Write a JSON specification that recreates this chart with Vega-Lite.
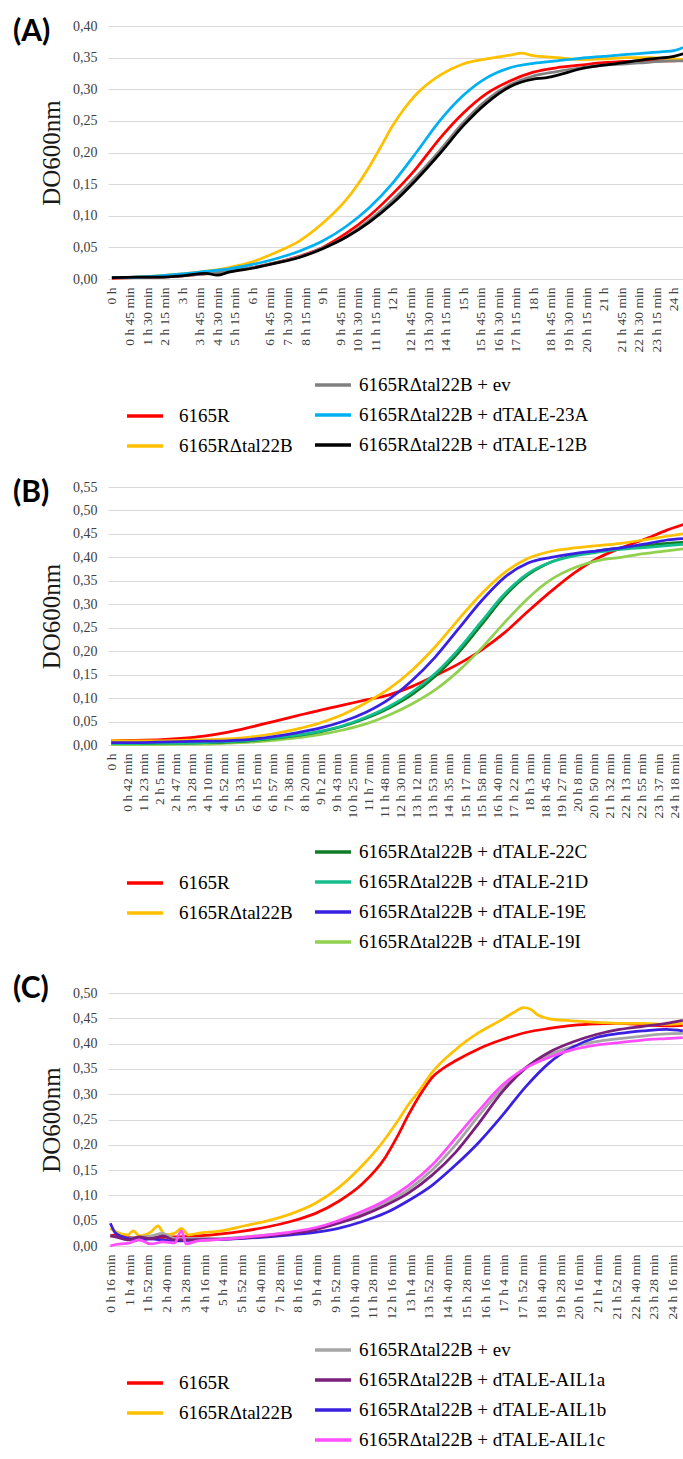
{
"$schema": "https://vega.github.io/schema/vega-lite/v6.json",
"padding": {"left": 13, "top": 17, "right": 0, "bottom": 0},
"spacing": 22,
"config": {
  "view": {"stroke": null},
  "font": "Liberation Serif",
  "axis": {"labelFont": "Liberation Serif", "labelColor": "#404040", "titleFont": "Liberation Serif", "titleFontWeight": "normal", "titleColor": "#1a1a1a", "ticks": false, "domain": false, "gridColor": "#D9D9D9", "gridWidth": 1},
  "axisX": {"grid": false, "domain": true, "domainColor": "#D9D9D9", "domainWidth": 1, "labelAngle": -90, "labelFontSize": 13.5, "labelPadding": 8, "labelOverlap": false, "labelFlush": false, "labelBound": false, "title": null},
  "axisY": {"labelFontSize": 14, "labelPadding": 11, "titleFontSize": 25, "titlePadding": 8, "labelExpr": "replace(format(datum.value,'.2f'),'.',',')"},
  "legend": {"orient": "none", "symbolType": "stroke", "symbolStrokeWidth": 3.5, "symbolSize": 1296, "rowPadding": -7, "labelFont": "Liberation Serif", "labelFontSize": 19, "labelColor": "#000000", "padding": 0, "labelLimit": 400},
  "title": {"font": "Lato", "fontSize": 30, "fontWeight": "bold", "color": "#000000", "anchor": "start", "frame": "group", "baseline": "top", "offset": 0, "dx": -95, "dy": 32}
},
"datasets": {
"A": [
{"s":"6165R","t":0,"v":0.001},{"s":"6165R","t":60,"v":0.002},{"s":"6165R","t":120,"v":0.003},{"s":"6165R","t":180,"v":0.005},{"s":"6165R","t":240,"v":0.008},{"s":"6165R","t":300,"v":0.012},{"s":"6165R","t":360,"v":0.018},{"s":"6165R","t":420,"v":0.026},{"s":"6165R","t":480,"v":0.036},{"s":"6165R","t":540,"v":0.05},{"s":"6165R","t":600,"v":0.072},{"s":"6165R","t":660,"v":0.1},{"s":"6165R","t":720,"v":0.135},{"s":"6165R","t":780,"v":0.175},{"s":"6165R","t":840,"v":0.222},{"s":"6165R","t":900,"v":0.262},{"s":"6165R","t":960,"v":0.293},{"s":"6165R","t":1020,"v":0.313},{"s":"6165R","t":1080,"v":0.327},{"s":"6165R","t":1140,"v":0.334},{"s":"6165R","t":1200,"v":0.338},{"s":"6165R","t":1260,"v":0.342},{"s":"6165R","t":1320,"v":0.344},{"s":"6165R","t":1380,"v":0.345},{"s":"6165R","t":1440,"v":0.345},{"s":"6165R","t":1464,"v":0.346},
{"s":"6165RΔtal22B","t":0,"v":0.002},{"s":"6165RΔtal22B","t":60,"v":0.003},{"s":"6165RΔtal22B","t":120,"v":0.005},{"s":"6165RΔtal22B","t":180,"v":0.008},{"s":"6165RΔtal22B","t":240,"v":0.012},{"s":"6165RΔtal22B","t":300,"v":0.018},{"s":"6165RΔtal22B","t":360,"v":0.027},{"s":"6165RΔtal22B","t":420,"v":0.042},{"s":"6165RΔtal22B","t":480,"v":0.06},{"s":"6165RΔtal22B","t":540,"v":0.088},{"s":"6165RΔtal22B","t":600,"v":0.125},{"s":"6165RΔtal22B","t":660,"v":0.178},{"s":"6165RΔtal22B","t":690,"v":0.21},{"s":"6165RΔtal22B","t":720,"v":0.243},{"s":"6165RΔtal22B","t":750,"v":0.27},{"s":"6165RΔtal22B","t":780,"v":0.292},{"s":"6165RΔtal22B","t":840,"v":0.322},{"s":"6165RΔtal22B","t":900,"v":0.34},{"s":"6165RΔtal22B","t":960,"v":0.348},{"s":"6165RΔtal22B","t":1020,"v":0.354},{"s":"6165RΔtal22B","t":1050,"v":0.357},{"s":"6165RΔtal22B","t":1080,"v":0.353},{"s":"6165RΔtal22B","t":1140,"v":0.35},{"s":"6165RΔtal22B","t":1200,"v":0.347},{"s":"6165RΔtal22B","t":1260,"v":0.348},{"s":"6165RΔtal22B","t":1320,"v":0.35},{"s":"6165RΔtal22B","t":1380,"v":0.35},{"s":"6165RΔtal22B","t":1440,"v":0.348},{"s":"6165RΔtal22B","t":1464,"v":0.347},
{"s":"6165RΔtal22B + ev","t":0,"v":0.002},{"s":"6165RΔtal22B + ev","t":60,"v":0.002},{"s":"6165RΔtal22B + ev","t":120,"v":0.003},{"s":"6165RΔtal22B + ev","t":180,"v":0.005},{"s":"6165RΔtal22B + ev","t":240,"v":0.008},{"s":"6165RΔtal22B + ev","t":300,"v":0.012},{"s":"6165RΔtal22B + ev","t":360,"v":0.018},{"s":"6165RΔtal22B + ev","t":420,"v":0.026},{"s":"6165RΔtal22B + ev","t":480,"v":0.035},{"s":"6165RΔtal22B + ev","t":540,"v":0.049},{"s":"6165RΔtal22B + ev","t":600,"v":0.067},{"s":"6165RΔtal22B + ev","t":660,"v":0.093},{"s":"6165RΔtal22B + ev","t":720,"v":0.125},{"s":"6165RΔtal22B + ev","t":780,"v":0.162},{"s":"6165RΔtal22B + ev","t":840,"v":0.203},{"s":"6165RΔtal22B + ev","t":900,"v":0.247},{"s":"6165RΔtal22B + ev","t":960,"v":0.283},{"s":"6165RΔtal22B + ev","t":1020,"v":0.307},{"s":"6165RΔtal22B + ev","t":1080,"v":0.321},{"s":"6165RΔtal22B + ev","t":1140,"v":0.328},{"s":"6165RΔtal22B + ev","t":1200,"v":0.334},{"s":"6165RΔtal22B + ev","t":1260,"v":0.338},{"s":"6165RΔtal22B + ev","t":1320,"v":0.34},{"s":"6165RΔtal22B + ev","t":1380,"v":0.343},{"s":"6165RΔtal22B + ev","t":1440,"v":0.345},{"s":"6165RΔtal22B + ev","t":1464,"v":0.345},
{"s":"6165RΔtal22B + dTALE-23A","t":0,"v":0.002},{"s":"6165RΔtal22B + dTALE-23A","t":60,"v":0.003},{"s":"6165RΔtal22B + dTALE-23A","t":120,"v":0.005},{"s":"6165RΔtal22B + dTALE-23A","t":180,"v":0.008},{"s":"6165RΔtal22B + dTALE-23A","t":240,"v":0.012},{"s":"6165RΔtal22B + dTALE-23A","t":300,"v":0.016},{"s":"6165RΔtal22B + dTALE-23A","t":360,"v":0.023},{"s":"6165RΔtal22B + dTALE-23A","t":420,"v":0.032},{"s":"6165RΔtal22B + dTALE-23A","t":480,"v":0.044},{"s":"6165RΔtal22B + dTALE-23A","t":540,"v":0.06},{"s":"6165RΔtal22B + dTALE-23A","t":600,"v":0.083},{"s":"6165RΔtal22B + dTALE-23A","t":660,"v":0.113},{"s":"6165RΔtal22B + dTALE-23A","t":720,"v":0.152},{"s":"6165RΔtal22B + dTALE-23A","t":780,"v":0.2},{"s":"6165RΔtal22B + dTALE-23A","t":840,"v":0.25},{"s":"6165RΔtal22B + dTALE-23A","t":900,"v":0.29},{"s":"6165RΔtal22B + dTALE-23A","t":960,"v":0.318},{"s":"6165RΔtal22B + dTALE-23A","t":1020,"v":0.334},{"s":"6165RΔtal22B + dTALE-23A","t":1080,"v":0.341},{"s":"6165RΔtal22B + dTALE-23A","t":1140,"v":0.345},{"s":"6165RΔtal22B + dTALE-23A","t":1200,"v":0.349},{"s":"6165RΔtal22B + dTALE-23A","t":1260,"v":0.352},{"s":"6165RΔtal22B + dTALE-23A","t":1320,"v":0.355},{"s":"6165RΔtal22B + dTALE-23A","t":1380,"v":0.358},{"s":"6165RΔtal22B + dTALE-23A","t":1440,"v":0.361},{"s":"6165RΔtal22B + dTALE-23A","t":1464,"v":0.366},
{"s":"6165RΔtal22B + dTALE-12B","t":0,"v":0.002},{"s":"6165RΔtal22B + dTALE-12B","t":60,"v":0.003},{"s":"6165RΔtal22B + dTALE-12B","t":120,"v":0.003},{"s":"6165RΔtal22B + dTALE-12B","t":180,"v":0.005},{"s":"6165RΔtal22B + dTALE-12B","t":240,"v":0.009},{"s":"6165RΔtal22B + dTALE-12B","t":270,"v":0.006},{"s":"6165RΔtal22B + dTALE-12B","t":300,"v":0.011},{"s":"6165RΔtal22B + dTALE-12B","t":360,"v":0.017},{"s":"6165RΔtal22B + dTALE-12B","t":420,"v":0.025},{"s":"6165RΔtal22B + dTALE-12B","t":480,"v":0.034},{"s":"6165RΔtal22B + dTALE-12B","t":540,"v":0.048},{"s":"6165RΔtal22B + dTALE-12B","t":600,"v":0.066},{"s":"6165RΔtal22B + dTALE-12B","t":660,"v":0.09},{"s":"6165RΔtal22B + dTALE-12B","t":720,"v":0.12},{"s":"6165RΔtal22B + dTALE-12B","t":780,"v":0.157},{"s":"6165RΔtal22B + dTALE-12B","t":840,"v":0.198},{"s":"6165RΔtal22B + dTALE-12B","t":900,"v":0.242},{"s":"6165RΔtal22B + dTALE-12B","t":960,"v":0.278},{"s":"6165RΔtal22B + dTALE-12B","t":1020,"v":0.304},{"s":"6165RΔtal22B + dTALE-12B","t":1080,"v":0.316},{"s":"6165RΔtal22B + dTALE-12B","t":1110,"v":0.318},{"s":"6165RΔtal22B + dTALE-12B","t":1140,"v":0.322},{"s":"6165RΔtal22B + dTALE-12B","t":1200,"v":0.332},{"s":"6165RΔtal22B + dTALE-12B","t":1260,"v":0.338},{"s":"6165RΔtal22B + dTALE-12B","t":1320,"v":0.343},{"s":"6165RΔtal22B + dTALE-12B","t":1380,"v":0.348},{"s":"6165RΔtal22B + dTALE-12B","t":1440,"v":0.352},{"s":"6165RΔtal22B + dTALE-12B","t":1464,"v":0.356}
],
"B": [
{"s":"6165R","t":0,"v":0.01},{"s":"6165R","t":60,"v":0.01},{"s":"6165R","t":120,"v":0.011},{"s":"6165R","t":180,"v":0.014},{"s":"6165R","t":240,"v":0.019},{"s":"6165R","t":300,"v":0.027},{"s":"6165R","t":360,"v":0.038},{"s":"6165R","t":420,"v":0.05},{"s":"6165R","t":480,"v":0.062},{"s":"6165R","t":540,"v":0.074},{"s":"6165R","t":600,"v":0.085},{"s":"6165R","t":660,"v":0.096},{"s":"6165R","t":720,"v":0.107},{"s":"6165R","t":780,"v":0.125},{"s":"6165R","t":840,"v":0.148},{"s":"6165R","t":900,"v":0.173},{"s":"6165R","t":960,"v":0.203},{"s":"6165R","t":1020,"v":0.24},{"s":"6165R","t":1080,"v":0.285},{"s":"6165R","t":1140,"v":0.328},{"s":"6165R","t":1200,"v":0.367},{"s":"6165R","t":1260,"v":0.398},{"s":"6165R","t":1320,"v":0.42},{"s":"6165R","t":1380,"v":0.438},{"s":"6165R","t":1440,"v":0.458},{"s":"6165R","t":1482,"v":0.47},
{"s":"6165RΔtal22B","t":0,"v":0.01},{"s":"6165RΔtal22B","t":60,"v":0.009},{"s":"6165RΔtal22B","t":120,"v":0.009},{"s":"6165RΔtal22B","t":180,"v":0.01},{"s":"6165RΔtal22B","t":240,"v":0.011},{"s":"6165RΔtal22B","t":300,"v":0.013},{"s":"6165RΔtal22B","t":360,"v":0.017},{"s":"6165RΔtal22B","t":420,"v":0.024},{"s":"6165RΔtal22B","t":480,"v":0.034},{"s":"6165RΔtal22B","t":540,"v":0.047},{"s":"6165RΔtal22B","t":600,"v":0.065},{"s":"6165RΔtal22B","t":660,"v":0.09},{"s":"6165RΔtal22B","t":720,"v":0.12},{"s":"6165RΔtal22B","t":780,"v":0.16},{"s":"6165RΔtal22B","t":840,"v":0.21},{"s":"6165RΔtal22B","t":900,"v":0.268},{"s":"6165RΔtal22B","t":960,"v":0.323},{"s":"6165RΔtal22B","t":1020,"v":0.368},{"s":"6165RΔtal22B","t":1080,"v":0.398},{"s":"6165RΔtal22B","t":1140,"v":0.413},{"s":"6165RΔtal22B","t":1200,"v":0.42},{"s":"6165RΔtal22B","t":1260,"v":0.425},{"s":"6165RΔtal22B","t":1320,"v":0.43},{"s":"6165RΔtal22B","t":1380,"v":0.437},{"s":"6165RΔtal22B","t":1440,"v":0.445},{"s":"6165RΔtal22B","t":1482,"v":0.45},
{"s":"6165RΔtal22B + dTALE-19I","t":0,"v":0.001},{"s":"6165RΔtal22B + dTALE-19I","t":60,"v":0.001},{"s":"6165RΔtal22B + dTALE-19I","t":120,"v":0.001},{"s":"6165RΔtal22B + dTALE-19I","t":180,"v":0.002},{"s":"6165RΔtal22B + dTALE-19I","t":240,"v":0.002},{"s":"6165RΔtal22B + dTALE-19I","t":300,"v":0.004},{"s":"6165RΔtal22B + dTALE-19I","t":360,"v":0.006},{"s":"6165RΔtal22B + dTALE-19I","t":420,"v":0.01},{"s":"6165RΔtal22B + dTALE-19I","t":480,"v":0.015},{"s":"6165RΔtal22B + dTALE-19I","t":540,"v":0.022},{"s":"6165RΔtal22B + dTALE-19I","t":600,"v":0.032},{"s":"6165RΔtal22B + dTALE-19I","t":660,"v":0.045},{"s":"6165RΔtal22B + dTALE-19I","t":720,"v":0.064},{"s":"6165RΔtal22B + dTALE-19I","t":780,"v":0.088},{"s":"6165RΔtal22B + dTALE-19I","t":840,"v":0.118},{"s":"6165RΔtal22B + dTALE-19I","t":900,"v":0.158},{"s":"6165RΔtal22B + dTALE-19I","t":960,"v":0.207},{"s":"6165RΔtal22B + dTALE-19I","t":1020,"v":0.262},{"s":"6165RΔtal22B + dTALE-19I","t":1080,"v":0.313},{"s":"6165RΔtal22B + dTALE-19I","t":1140,"v":0.353},{"s":"6165RΔtal22B + dTALE-19I","t":1200,"v":0.378},{"s":"6165RΔtal22B + dTALE-19I","t":1260,"v":0.393},{"s":"6165RΔtal22B + dTALE-19I","t":1320,"v":0.4},{"s":"6165RΔtal22B + dTALE-19I","t":1380,"v":0.408},{"s":"6165RΔtal22B + dTALE-19I","t":1440,"v":0.414},{"s":"6165RΔtal22B + dTALE-19I","t":1482,"v":0.418},
{"s":"6165RΔtal22B + dTALE-22C","t":0,"v":0.003},{"s":"6165RΔtal22B + dTALE-22C","t":60,"v":0.003},{"s":"6165RΔtal22B + dTALE-22C","t":120,"v":0.004},{"s":"6165RΔtal22B + dTALE-22C","t":180,"v":0.004},{"s":"6165RΔtal22B + dTALE-22C","t":240,"v":0.005},{"s":"6165RΔtal22B + dTALE-22C","t":300,"v":0.006},{"s":"6165RΔtal22B + dTALE-22C","t":360,"v":0.009},{"s":"6165RΔtal22B + dTALE-22C","t":420,"v":0.014},{"s":"6165RΔtal22B + dTALE-22C","t":480,"v":0.02},{"s":"6165RΔtal22B + dTALE-22C","t":540,"v":0.028},{"s":"6165RΔtal22B + dTALE-22C","t":600,"v":0.04},{"s":"6165RΔtal22B + dTALE-22C","t":660,"v":0.057},{"s":"6165RΔtal22B + dTALE-22C","t":720,"v":0.079},{"s":"6165RΔtal22B + dTALE-22C","t":780,"v":0.108},{"s":"6165RΔtal22B + dTALE-22C","t":840,"v":0.147},{"s":"6165RΔtal22B + dTALE-22C","t":900,"v":0.197},{"s":"6165RΔtal22B + dTALE-22C","t":960,"v":0.257},{"s":"6165RΔtal22B + dTALE-22C","t":1020,"v":0.318},{"s":"6165RΔtal22B + dTALE-22C","t":1080,"v":0.363},{"s":"6165RΔtal22B + dTALE-22C","t":1140,"v":0.39},{"s":"6165RΔtal22B + dTALE-22C","t":1200,"v":0.405},{"s":"6165RΔtal22B + dTALE-22C","t":1260,"v":0.414},{"s":"6165RΔtal22B + dTALE-22C","t":1320,"v":0.42},{"s":"6165RΔtal22B + dTALE-22C","t":1380,"v":0.425},{"s":"6165RΔtal22B + dTALE-22C","t":1440,"v":0.43},{"s":"6165RΔtal22B + dTALE-22C","t":1482,"v":0.432},
{"s":"6165RΔtal22B + dTALE-21D","t":0,"v":0.003},{"s":"6165RΔtal22B + dTALE-21D","t":60,"v":0.003},{"s":"6165RΔtal22B + dTALE-21D","t":120,"v":0.004},{"s":"6165RΔtal22B + dTALE-21D","t":180,"v":0.004},{"s":"6165RΔtal22B + dTALE-21D","t":240,"v":0.005},{"s":"6165RΔtal22B + dTALE-21D","t":300,"v":0.007},{"s":"6165RΔtal22B + dTALE-21D","t":360,"v":0.01},{"s":"6165RΔtal22B + dTALE-21D","t":420,"v":0.015},{"s":"6165RΔtal22B + dTALE-21D","t":480,"v":0.021},{"s":"6165RΔtal22B + dTALE-21D","t":540,"v":0.029},{"s":"6165RΔtal22B + dTALE-21D","t":600,"v":0.041},{"s":"6165RΔtal22B + dTALE-21D","t":660,"v":0.059},{"s":"6165RΔtal22B + dTALE-21D","t":720,"v":0.082},{"s":"6165RΔtal22B + dTALE-21D","t":780,"v":0.113},{"s":"6165RΔtal22B + dTALE-21D","t":840,"v":0.153},{"s":"6165RΔtal22B + dTALE-21D","t":900,"v":0.204},{"s":"6165RΔtal22B + dTALE-21D","t":960,"v":0.264},{"s":"6165RΔtal22B + dTALE-21D","t":1020,"v":0.323},{"s":"6165RΔtal22B + dTALE-21D","t":1080,"v":0.366},{"s":"6165RΔtal22B + dTALE-21D","t":1140,"v":0.39},{"s":"6165RΔtal22B + dTALE-21D","t":1200,"v":0.403},{"s":"6165RΔtal22B + dTALE-21D","t":1260,"v":0.411},{"s":"6165RΔtal22B + dTALE-21D","t":1320,"v":0.417},{"s":"6165RΔtal22B + dTALE-21D","t":1380,"v":0.421},{"s":"6165RΔtal22B + dTALE-21D","t":1440,"v":0.425},{"s":"6165RΔtal22B + dTALE-21D","t":1482,"v":0.428},
{"s":"6165RΔtal22B + dTALE-19E","t":0,"v":0.005},{"s":"6165RΔtal22B + dTALE-19E","t":60,"v":0.005},{"s":"6165RΔtal22B + dTALE-19E","t":120,"v":0.006},{"s":"6165RΔtal22B + dTALE-19E","t":180,"v":0.007},{"s":"6165RΔtal22B + dTALE-19E","t":240,"v":0.008},{"s":"6165RΔtal22B + dTALE-19E","t":300,"v":0.009},{"s":"6165RΔtal22B + dTALE-19E","t":360,"v":0.012},{"s":"6165RΔtal22B + dTALE-19E","t":420,"v":0.018},{"s":"6165RΔtal22B + dTALE-19E","t":480,"v":0.026},{"s":"6165RΔtal22B + dTALE-19E","t":540,"v":0.036},{"s":"6165RΔtal22B + dTALE-19E","t":600,"v":0.05},{"s":"6165RΔtal22B + dTALE-19E","t":660,"v":0.07},{"s":"6165RΔtal22B + dTALE-19E","t":720,"v":0.098},{"s":"6165RΔtal22B + dTALE-19E","t":780,"v":0.138},{"s":"6165RΔtal22B + dTALE-19E","t":840,"v":0.188},{"s":"6165RΔtal22B + dTALE-19E","t":900,"v":0.248},{"s":"6165RΔtal22B + dTALE-19E","t":960,"v":0.308},{"s":"6165RΔtal22B + dTALE-19E","t":1020,"v":0.358},{"s":"6165RΔtal22B + dTALE-19E","t":1080,"v":0.388},{"s":"6165RΔtal22B + dTALE-19E","t":1140,"v":0.4},{"s":"6165RΔtal22B + dTALE-19E","t":1200,"v":0.408},{"s":"6165RΔtal22B + dTALE-19E","t":1260,"v":0.414},{"s":"6165RΔtal22B + dTALE-19E","t":1320,"v":0.42},{"s":"6165RΔtal22B + dTALE-19E","t":1380,"v":0.428},{"s":"6165RΔtal22B + dTALE-19E","t":1440,"v":0.437},{"s":"6165RΔtal22B + dTALE-19E","t":1482,"v":0.44}
],
"C": [
{"s":"6165R","t":16,"v":0.02},{"s":"6165R","t":30,"v":0.022},{"s":"6165R","t":60,"v":0.018},{"s":"6165R","t":90,"v":0.015},{"s":"6165R","t":120,"v":0.016},{"s":"6165R","t":180,"v":0.018},{"s":"6165R","t":240,"v":0.02},{"s":"6165R","t":300,"v":0.024},{"s":"6165R","t":360,"v":0.03},{"s":"6165R","t":420,"v":0.038},{"s":"6165R","t":480,"v":0.049},{"s":"6165R","t":540,"v":0.064},{"s":"6165R","t":600,"v":0.088},{"s":"6165R","t":660,"v":0.122},{"s":"6165R","t":720,"v":0.175},{"s":"6165R","t":750,"v":0.215},{"s":"6165R","t":780,"v":0.26},{"s":"6165R","t":810,"v":0.3},{"s":"6165R","t":840,"v":0.333},{"s":"6165R","t":870,"v":0.352},{"s":"6165R","t":900,"v":0.366},{"s":"6165R","t":960,"v":0.39},{"s":"6165R","t":1020,"v":0.408},{"s":"6165R","t":1080,"v":0.422},{"s":"6165R","t":1140,"v":0.43},{"s":"6165R","t":1200,"v":0.436},{"s":"6165R","t":1260,"v":0.439},{"s":"6165R","t":1320,"v":0.44},{"s":"6165R","t":1380,"v":0.437},{"s":"6165R","t":1440,"v":0.435},{"s":"6165R","t":1482,"v":0.436},
{"s":"6165RΔtal22B","t":16,"v":0.035},{"s":"6165RΔtal22B","t":30,"v":0.028},{"s":"6165RΔtal22B","t":60,"v":0.022},{"s":"6165RΔtal22B","t":75,"v":0.03},{"s":"6165RΔtal22B","t":90,"v":0.02},{"s":"6165RΔtal22B","t":120,"v":0.028},{"s":"6165RΔtal22B","t":138,"v":0.04},{"s":"6165RΔtal22B","t":156,"v":0.022},{"s":"6165RΔtal22B","t":180,"v":0.025},{"s":"6165RΔtal22B","t":198,"v":0.035},{"s":"6165RΔtal22B","t":216,"v":0.022},{"s":"6165RΔtal22B","t":240,"v":0.025},{"s":"6165RΔtal22B","t":300,"v":0.03},{"s":"6165RΔtal22B","t":360,"v":0.04},{"s":"6165RΔtal22B","t":420,"v":0.05},{"s":"6165RΔtal22B","t":480,"v":0.064},{"s":"6165RΔtal22B","t":540,"v":0.084},{"s":"6165RΔtal22B","t":600,"v":0.115},{"s":"6165RΔtal22B","t":660,"v":0.158},{"s":"6165RΔtal22B","t":720,"v":0.212},{"s":"6165RΔtal22B","t":750,"v":0.245},{"s":"6165RΔtal22B","t":780,"v":0.28},{"s":"6165RΔtal22B","t":810,"v":0.31},{"s":"6165RΔtal22B","t":840,"v":0.343},{"s":"6165RΔtal22B","t":900,"v":0.388},{"s":"6165RΔtal22B","t":960,"v":0.422},{"s":"6165RΔtal22B","t":1020,"v":0.448},{"s":"6165RΔtal22B","t":1050,"v":0.462},{"s":"6165RΔtal22B","t":1074,"v":0.471},{"s":"6165RΔtal22B","t":1092,"v":0.468},{"s":"6165RΔtal22B","t":1110,"v":0.457},{"s":"6165RΔtal22B","t":1140,"v":0.449},{"s":"6165RΔtal22B","t":1200,"v":0.445},{"s":"6165RΔtal22B","t":1260,"v":0.442},{"s":"6165RΔtal22B","t":1320,"v":0.44},{"s":"6165RΔtal22B","t":1380,"v":0.44},{"s":"6165RΔtal22B","t":1440,"v":0.438},{"s":"6165RΔtal22B","t":1482,"v":0.44},
{"s":"6165RΔtal22B + ev","t":16,"v":0.02},{"s":"6165RΔtal22B + ev","t":60,"v":0.016},{"s":"6165RΔtal22B + ev","t":120,"v":0.02},{"s":"6165RΔtal22B + ev","t":150,"v":0.025},{"s":"6165RΔtal22B + ev","t":180,"v":0.015},{"s":"6165RΔtal22B + ev","t":240,"v":0.015},{"s":"6165RΔtal22B + ev","t":300,"v":0.015},{"s":"6165RΔtal22B + ev","t":360,"v":0.018},{"s":"6165RΔtal22B + ev","t":420,"v":0.022},{"s":"6165RΔtal22B + ev","t":480,"v":0.027},{"s":"6165RΔtal22B + ev","t":540,"v":0.034},{"s":"6165RΔtal22B + ev","t":600,"v":0.047},{"s":"6165RΔtal22B + ev","t":660,"v":0.063},{"s":"6165RΔtal22B + ev","t":720,"v":0.085},{"s":"6165RΔtal22B + ev","t":780,"v":0.112},{"s":"6165RΔtal22B + ev","t":840,"v":0.15},{"s":"6165RΔtal22B + ev","t":900,"v":0.2},{"s":"6165RΔtal22B + ev","t":960,"v":0.258},{"s":"6165RΔtal22B + ev","t":1020,"v":0.312},{"s":"6165RΔtal22B + ev","t":1080,"v":0.353},{"s":"6165RΔtal22B + ev","t":1140,"v":0.378},{"s":"6165RΔtal22B + ev","t":1200,"v":0.394},{"s":"6165RΔtal22B + ev","t":1260,"v":0.404},{"s":"6165RΔtal22B + ev","t":1320,"v":0.41},{"s":"6165RΔtal22B + ev","t":1380,"v":0.415},{"s":"6165RΔtal22B + ev","t":1440,"v":0.419},{"s":"6165RΔtal22B + ev","t":1482,"v":0.42},
{"s":"6165RΔtal22B + dTALE-AIL1b","t":16,"v":0.045},{"s":"6165RΔtal22B + dTALE-AIL1b","t":30,"v":0.025},{"s":"6165RΔtal22B + dTALE-AIL1b","t":60,"v":0.015},{"s":"6165RΔtal22B + dTALE-AIL1b","t":90,"v":0.012},{"s":"6165RΔtal22B + dTALE-AIL1b","t":120,"v":0.014},{"s":"6165RΔtal22B + dTALE-AIL1b","t":150,"v":0.012},{"s":"6165RΔtal22B + dTALE-AIL1b","t":180,"v":0.01},{"s":"6165RΔtal22B + dTALE-AIL1b","t":240,"v":0.012},{"s":"6165RΔtal22B + dTALE-AIL1b","t":300,"v":0.013},{"s":"6165RΔtal22B + dTALE-AIL1b","t":360,"v":0.015},{"s":"6165RΔtal22B + dTALE-AIL1b","t":420,"v":0.018},{"s":"6165RΔtal22B + dTALE-AIL1b","t":480,"v":0.022},{"s":"6165RΔtal22B + dTALE-AIL1b","t":540,"v":0.027},{"s":"6165RΔtal22B + dTALE-AIL1b","t":600,"v":0.035},{"s":"6165RΔtal22B + dTALE-AIL1b","t":660,"v":0.048},{"s":"6165RΔtal22B + dTALE-AIL1b","t":720,"v":0.065},{"s":"6165RΔtal22B + dTALE-AIL1b","t":780,"v":0.09},{"s":"6165RΔtal22B + dTALE-AIL1b","t":840,"v":0.12},{"s":"6165RΔtal22B + dTALE-AIL1b","t":900,"v":0.16},{"s":"6165RΔtal22B + dTALE-AIL1b","t":960,"v":0.205},{"s":"6165RΔtal22B + dTALE-AIL1b","t":1020,"v":0.258},{"s":"6165RΔtal22B + dTALE-AIL1b","t":1080,"v":0.315},{"s":"6165RΔtal22B + dTALE-AIL1b","t":1140,"v":0.362},{"s":"6165RΔtal22B + dTALE-AIL1b","t":1200,"v":0.393},{"s":"6165RΔtal22B + dTALE-AIL1b","t":1260,"v":0.412},{"s":"6165RΔtal22B + dTALE-AIL1b","t":1320,"v":0.42},{"s":"6165RΔtal22B + dTALE-AIL1b","t":1380,"v":0.425},{"s":"6165RΔtal22B + dTALE-AIL1b","t":1440,"v":0.428},{"s":"6165RΔtal22B + dTALE-AIL1b","t":1482,"v":0.425},
{"s":"6165RΔtal22B + dTALE-AIL1a","t":16,"v":0.02},{"s":"6165RΔtal22B + dTALE-AIL1a","t":30,"v":0.018},{"s":"6165RΔtal22B + dTALE-AIL1a","t":60,"v":0.012},{"s":"6165RΔtal22B + dTALE-AIL1a","t":90,"v":0.018},{"s":"6165RΔtal22B + dTALE-AIL1a","t":120,"v":0.014},{"s":"6165RΔtal22B + dTALE-AIL1a","t":150,"v":0.02},{"s":"6165RΔtal22B + dTALE-AIL1a","t":180,"v":0.012},{"s":"6165RΔtal22B + dTALE-AIL1a","t":240,"v":0.012},{"s":"6165RΔtal22B + dTALE-AIL1a","t":300,"v":0.013},{"s":"6165RΔtal22B + dTALE-AIL1a","t":360,"v":0.016},{"s":"6165RΔtal22B + dTALE-AIL1a","t":420,"v":0.02},{"s":"6165RΔtal22B + dTALE-AIL1a","t":480,"v":0.025},{"s":"6165RΔtal22B + dTALE-AIL1a","t":540,"v":0.032},{"s":"6165RΔtal22B + dTALE-AIL1a","t":600,"v":0.045},{"s":"6165RΔtal22B + dTALE-AIL1a","t":660,"v":0.06},{"s":"6165RΔtal22B + dTALE-AIL1a","t":720,"v":0.08},{"s":"6165RΔtal22B + dTALE-AIL1a","t":780,"v":0.105},{"s":"6165RΔtal22B + dTALE-AIL1a","t":840,"v":0.14},{"s":"6165RΔtal22B + dTALE-AIL1a","t":900,"v":0.185},{"s":"6165RΔtal22B + dTALE-AIL1a","t":960,"v":0.243},{"s":"6165RΔtal22B + dTALE-AIL1a","t":1020,"v":0.305},{"s":"6165RΔtal22B + dTALE-AIL1a","t":1080,"v":0.352},{"s":"6165RΔtal22B + dTALE-AIL1a","t":1140,"v":0.383},{"s":"6165RΔtal22B + dTALE-AIL1a","t":1200,"v":0.403},{"s":"6165RΔtal22B + dTALE-AIL1a","t":1260,"v":0.418},{"s":"6165RΔtal22B + dTALE-AIL1a","t":1320,"v":0.428},{"s":"6165RΔtal22B + dTALE-AIL1a","t":1380,"v":0.434},{"s":"6165RΔtal22B + dTALE-AIL1a","t":1440,"v":0.44},{"s":"6165RΔtal22B + dTALE-AIL1a","t":1482,"v":0.446},
{"s":"6165RΔtal22B + dTALE-AIL1c","t":16,"v":0.0},{"s":"6165RΔtal22B + dTALE-AIL1c","t":30,"v":0.003},{"s":"6165RΔtal22B + dTALE-AIL1c","t":60,"v":0.005},{"s":"6165RΔtal22B + dTALE-AIL1c","t":90,"v":0.012},{"s":"6165RΔtal22B + dTALE-AIL1c","t":120,"v":0.004},{"s":"6165RΔtal22B + dTALE-AIL1c","t":150,"v":0.008},{"s":"6165RΔtal22B + dTALE-AIL1c","t":180,"v":0.006},{"s":"6165RΔtal22B + dTALE-AIL1c","t":198,"v":0.03},{"s":"6165RΔtal22B + dTALE-AIL1c","t":210,"v":0.004},{"s":"6165RΔtal22B + dTALE-AIL1c","t":240,"v":0.01},{"s":"6165RΔtal22B + dTALE-AIL1c","t":300,"v":0.013},{"s":"6165RΔtal22B + dTALE-AIL1c","t":360,"v":0.017},{"s":"6165RΔtal22B + dTALE-AIL1c","t":420,"v":0.022},{"s":"6165RΔtal22B + dTALE-AIL1c","t":480,"v":0.028},{"s":"6165RΔtal22B + dTALE-AIL1c","t":540,"v":0.036},{"s":"6165RΔtal22B + dTALE-AIL1c","t":600,"v":0.05},{"s":"6165RΔtal22B + dTALE-AIL1c","t":660,"v":0.068},{"s":"6165RΔtal22B + dTALE-AIL1c","t":720,"v":0.09},{"s":"6165RΔtal22B + dTALE-AIL1c","t":780,"v":0.12},{"s":"6165RΔtal22B + dTALE-AIL1c","t":840,"v":0.16},{"s":"6165RΔtal22B + dTALE-AIL1c","t":900,"v":0.213},{"s":"6165RΔtal22B + dTALE-AIL1c","t":960,"v":0.268},{"s":"6165RΔtal22B + dTALE-AIL1c","t":1020,"v":0.318},{"s":"6165RΔtal22B + dTALE-AIL1c","t":1080,"v":0.352},{"s":"6165RΔtal22B + dTALE-AIL1c","t":1140,"v":0.373},{"s":"6165RΔtal22B + dTALE-AIL1c","t":1200,"v":0.388},{"s":"6165RΔtal22B + dTALE-AIL1c","t":1260,"v":0.397},{"s":"6165RΔtal22B + dTALE-AIL1c","t":1320,"v":0.402},{"s":"6165RΔtal22B + dTALE-AIL1c","t":1380,"v":0.407},{"s":"6165RΔtal22B + dTALE-AIL1c","t":1440,"v":0.41},{"s":"6165RΔtal22B + dTALE-AIL1c","t":1482,"v":0.412}
]
},
"vconcat": [
{
  "title": {"text": "(A)"},
  "width": 576, "height": 253,
  "data": {"name": "A"},
  "encoding": {
    "x": {"field": "t", "type": "quantitative", "scale": {"domain": [-10, 1466], "nice": false, "zero": false},
      "axis": {"values": [0,45,90,135,180,225,270,315,360,405,450,495,540,585,630,675,720,765,810,855,900,945,990,1035,1080,1125,1170,1215,1260,1305,1350,1395,1440],
        "labelExpr": "floor(datum.value/60) + ' h' + (round(datum.value%60) > 0 ? ' ' + round(datum.value%60) + ' min' : '')"}},
    "y": {"field": "v", "type": "quantitative", "scale": {"domain": [0, 0.4], "nice": false},
      "axis": {"title": "DO600nm", "values": [0,0.05,0.1,0.15,0.2,0.25,0.3,0.35,0.4]}}
  },
  "layer": [
    {"transform": [{"filter": {"field": "s", "oneOf": ["6165R", "6165RΔtal22B"]}}],
     "mark": {"type": "line", "strokeWidth": 2.75, "interpolate": "monotone"},
     "encoding": {"color": {"field": "s", "type": "nominal",
       "scale": {"domain": ["6165R", "6165RΔtal22B"], "range": ["#FF0000", "#FFC000"]},
       "legend": {"title": null, "legendX": 17, "legendY": 370, "labelOffset": 14}}}},
    {"transform": [{"filter": {"field": "s", "oneOf": ["6165RΔtal22B + ev", "6165RΔtal22B + dTALE-23A", "6165RΔtal22B + dTALE-12B"]}}],
     "mark": {"type": "line", "strokeWidth": 2.75, "interpolate": "monotone"},
     "encoding": {"color": {"field": "s", "type": "nominal",
       "scale": {"domain": ["6165RΔtal22B + ev", "6165RΔtal22B + dTALE-23A", "6165RΔtal22B + dTALE-12B"], "range": ["#808080", "#00B0F0", "#000000"]},
       "legend": {"title": null, "legendX": 205, "legendY": 339, "labelOffset": 6}}}}
  ],
  "resolve": {"scale": {"color": "independent"}}
},
{
  "title": {"text": "(B)"},
  "width": 576, "height": 258,
  "data": {"name": "B"},
  "encoding": {
    "x": {"field": "t", "type": "quantitative", "scale": {"domain": [-8.5, 1484], "nice": false, "zero": false},
      "axis": {"values": [0,41.6667,83.3333,125,166.6667,208.3333,250,291.6667,333.3333,375,416.6667,458.3333,500,541.6667,583.3333,625,666.6667,708.3333,750,791.6667,833.3333,875,916.6667,958.3333,1000,1041.6667,1083.3333,1125,1166.6667,1208.3333,1250,1291.6667,1333.3333,1375,1416.6667,1458.3333],
        "labelExpr": "floor(datum.value/60) + ' h' + (round(datum.value%60) > 0 ? ' ' + round(datum.value%60) + ' min' : '')"}},
    "y": {"field": "v", "type": "quantitative", "scale": {"domain": [0, 0.55], "nice": false},
      "axis": {"title": "DO600nm", "values": [0,0.05,0.1,0.15,0.2,0.25,0.3,0.35,0.4,0.45,0.5,0.55]}}
  },
  "layer": [
    {"transform": [{"filter": {"field": "s", "oneOf": ["6165R", "6165RΔtal22B"]}}],
     "mark": {"type": "line", "strokeWidth": 2.75, "interpolate": "monotone"},
     "encoding": {"color": {"field": "s", "type": "nominal",
       "scale": {"domain": ["6165R", "6165RΔtal22B"], "range": ["#FF0000", "#FFC000"]},
       "legend": {"title": null, "legendX": 17, "legendY": 376, "labelOffset": 14}}}},
    {"transform": [{"filter": {"field": "s", "oneOf": ["6165RΔtal22B + dTALE-22C", "6165RΔtal22B + dTALE-21D", "6165RΔtal22B + dTALE-19E", "6165RΔtal22B + dTALE-19I"]}}],
     "mark": {"type": "line", "strokeWidth": 2.75, "interpolate": "monotone"},
     "encoding": {"color": {"field": "s", "type": "nominal",
       "scale": {"domain": ["6165RΔtal22B + dTALE-22C", "6165RΔtal22B + dTALE-21D", "6165RΔtal22B + dTALE-19E", "6165RΔtal22B + dTALE-19I"], "range": ["#0E7D26", "#14BE8C", "#3A20E0", "#92D050"]},
       "legend": {"title": null, "legendX": 205, "legendY": 345, "labelOffset": 6}}}}
  ],
  "resolve": {"scale": {"color": "independent"}}
},
{
  "title": {"text": "(C)", "dy": 22},
  "width": 576, "height": 253,
  "data": {"name": "C"},
  "encoding": {
    "x": {"field": "t", "type": "quantitative", "scale": {"domain": [10, 1485], "nice": false, "zero": false},
      "axis": {"values": [16,64,112,160,208,256,304,352,400,448,496,544,592,640,688,736,784,832,880,928,976,1024,1072,1120,1168,1216,1264,1312,1360,1408,1456],
        "labelExpr": "floor(datum.value/60) + ' h' + (round(datum.value%60) > 0 ? ' ' + round(datum.value%60) + ' min' : '')"}},
    "y": {"field": "v", "type": "quantitative", "scale": {"domain": [0, 0.5], "nice": false},
      "axis": {"title": "DO600nm", "values": [0,0.05,0.1,0.15,0.2,0.25,0.3,0.35,0.4,0.45,0.5]}}
  },
  "layer": [
    {"transform": [{"filter": {"field": "s", "oneOf": ["6165R", "6165RΔtal22B"]}}],
     "mark": {"type": "line", "strokeWidth": 2.75, "interpolate": "monotone"},
     "encoding": {"color": {"field": "s", "type": "nominal",
       "scale": {"domain": ["6165R", "6165RΔtal22B"], "range": ["#FF0000", "#FFC000"]},
       "legend": {"title": null, "legendX": 17, "legendY": 370, "labelOffset": 14}}}},
    {"transform": [{"filter": {"field": "s", "oneOf": ["6165RΔtal22B + ev", "6165RΔtal22B + dTALE-AIL1a", "6165RΔtal22B + dTALE-AIL1b", "6165RΔtal22B + dTALE-AIL1c"]}}],
     "mark": {"type": "line", "strokeWidth": 2.75, "interpolate": "monotone"},
     "encoding": {"color": {"field": "s", "type": "nominal",
       "scale": {"domain": ["6165RΔtal22B + ev", "6165RΔtal22B + dTALE-AIL1a", "6165RΔtal22B + dTALE-AIL1b", "6165RΔtal22B + dTALE-AIL1c"], "range": ["#A6A6A6", "#7A1F7A", "#3A20E0", "#FF4DFF"]},
       "legend": {"title": null, "legendX": 205, "legendY": 337, "labelOffset": 6}}}}
  ],
  "resolve": {"scale": {"color": "independent"}}
}
]
}
